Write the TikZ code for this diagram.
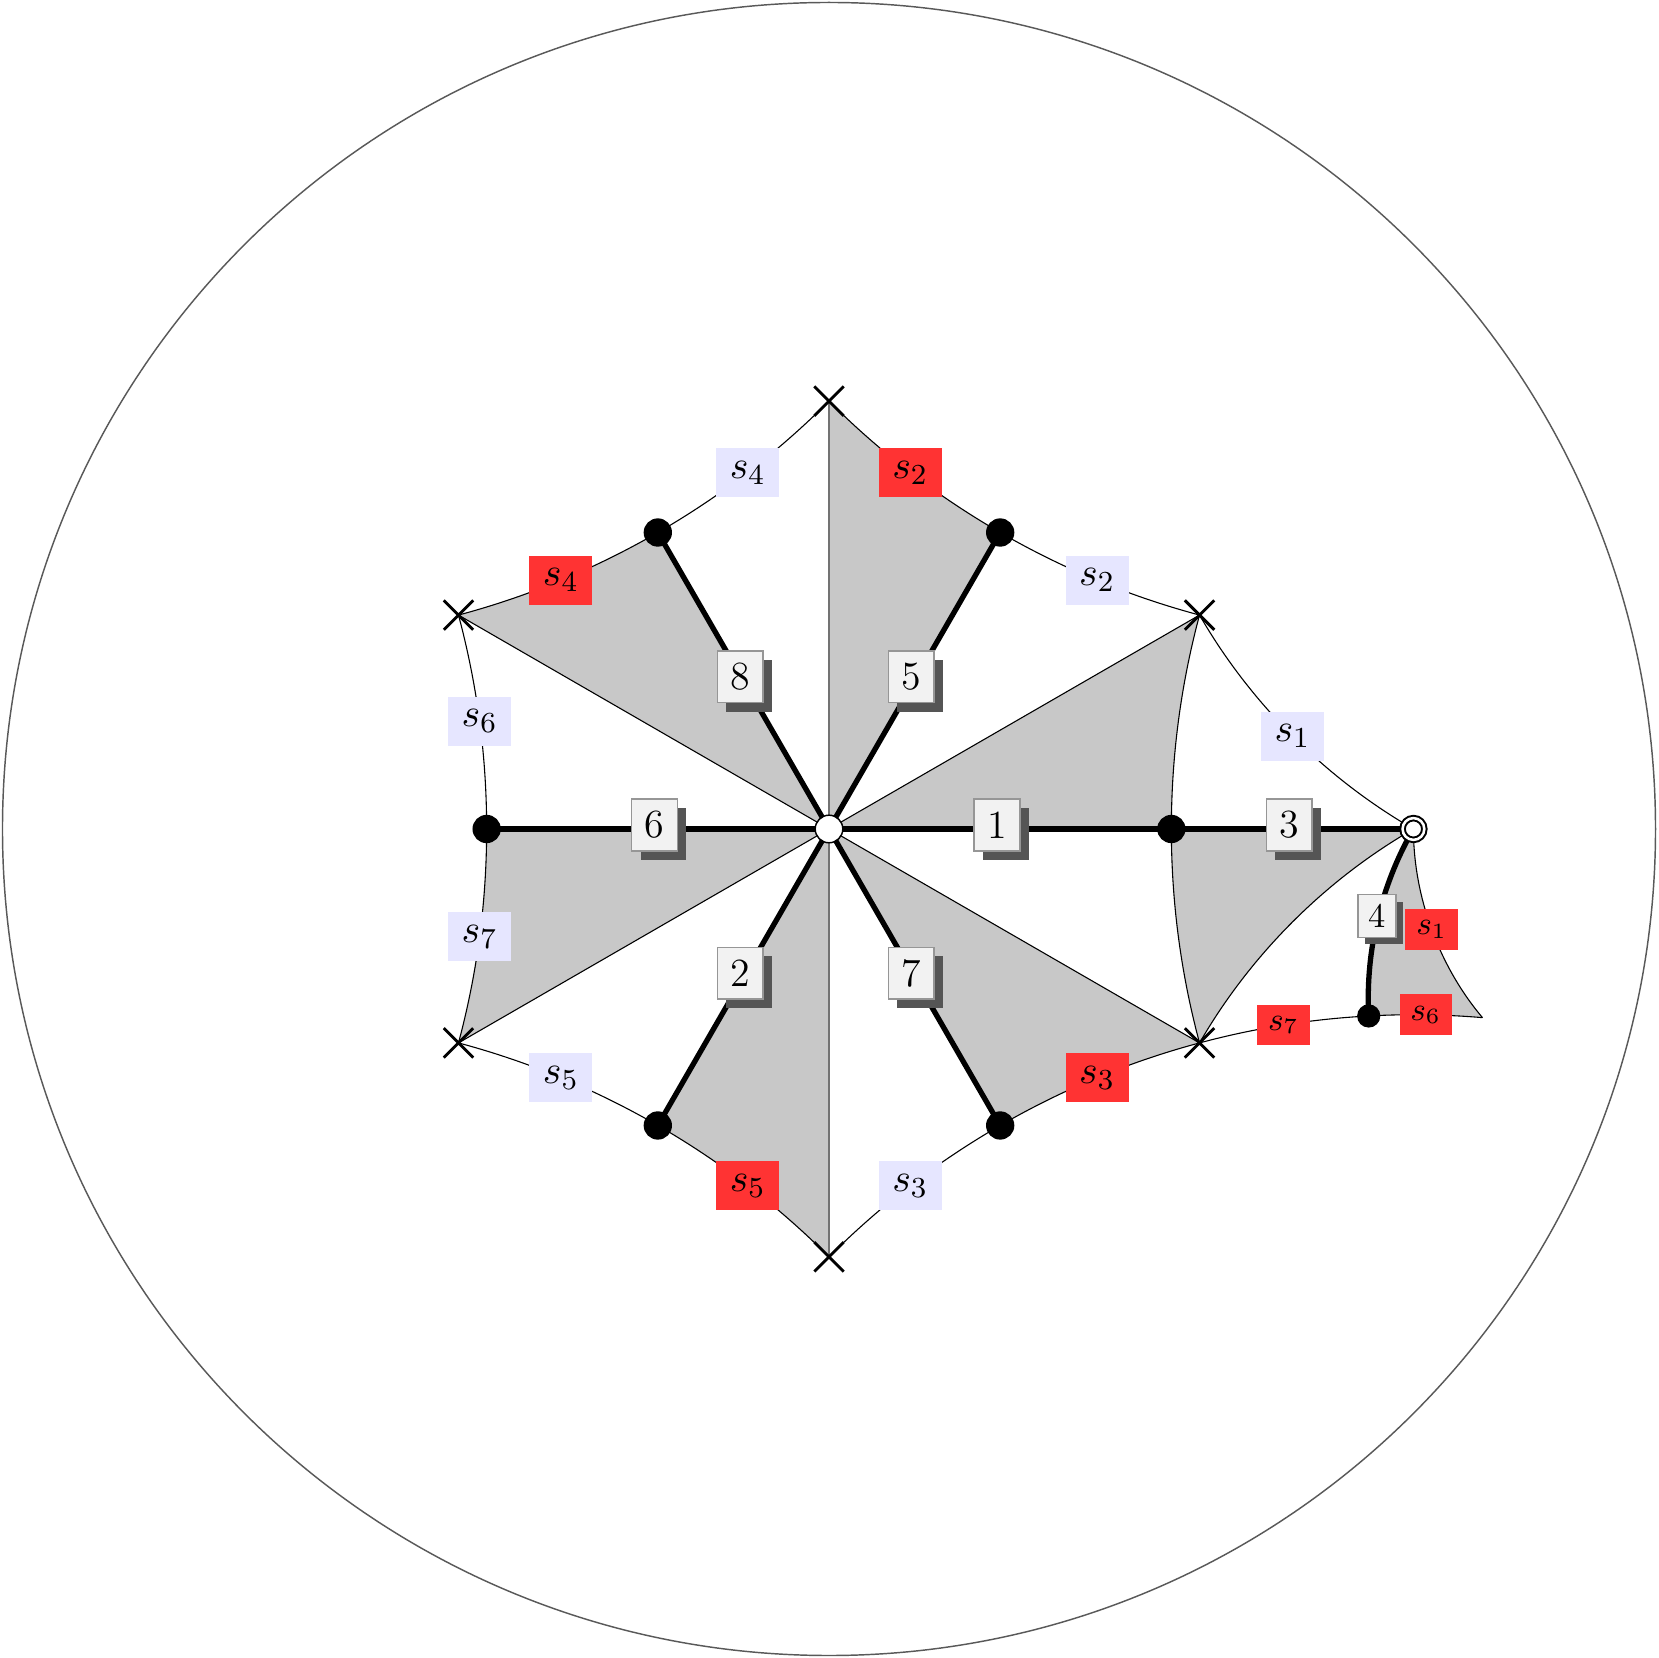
\documentclass[tikz,border=0pt]{standalone}
\usetikzlibrary{shapes.misc,shadows}
\definecolor{shadegray}{RGB}{200,200,200}
\definecolor{lav}{RGB}{230,230,255}
\definecolor{labred}{RGB}{255,51,51}
\definecolor{boxfill}{RGB}{242,242,242}
\definecolor{boxdraw}{RGB}{150,150,150}
\definecolor{shadowc}{RGB}{85,85,85}
\begin{document}
\begin{tikzpicture}[x=8cm,y=8cm,
  thinline/.style={line width=0.3pt,draw=black},
  vline/.style={line width=0.5pt,draw=black!55},
  rim/.style={line width=0.4pt,draw=black!65},
  thickline/.style={line width=1.46pt,draw=black},
  geo/.style={looseness=0.86},
  lbl/.style={midway,inner sep=0pt,font=\fontsize{11}{13}\selectfont},
  lavlab/.style={lbl,fill=lav,minimum width=17.3pt,minimum height=13.5pt},
  redlab/.style={lbl,fill=labred,minimum width=17.3pt,minimum height=13.5pt},
  redsmall/.style={lbl,fill=labred,minimum width=14.4pt,minimum height=11.2pt,font=\fontsize{9}{11}\selectfont},
  numbase/.style={midway,draw=boxdraw,fill=boxfill,line width=0.4pt,inner sep=0pt},
  numbox/.style={numbase,minimum width=12.6pt,minimum height=14.3pt,font=\fontsize{11}{13}\selectfont,xshift=-0.9pt,yshift=1.1pt,drop shadow={shadow xshift=2.47pt,shadow yshift=-2.47pt,fill=shadowc,opacity=1}},
  numsmall/.style={numbase,minimum width=10.4pt,minimum height=11.7pt,font=\fontsize{9.5}{11}\selectfont,xshift=-0.2pt,yshift=0.9pt,drop shadow={shadow xshift=1.9pt,shadow yshift=-1.9pt,fill=shadowc,opacity=1}},
  bdot/.style={circle,fill=black,inner sep=0pt,minimum size=7.8pt},
  sdot/.style={circle,fill=black,inner sep=0pt,minimum size=6.4pt},
  xmark/.style={cross out,draw=black,line width=0.8pt,inner sep=0pt,minimum size=7.3pt},
  wdot/.style={circle,draw=black,fill=white,line width=0.4pt,inner sep=0pt,minimum size=7.6pt},
  ddot/.style={circle,draw=black,line width=0.55pt,double=white,double distance=0.7pt,fill=white,inner sep=0pt,minimum size=6pt}
]
\useasboundingbox (-1.00302,-1.00302) rectangle (1.00302,1.00302);

% points
\coordinate (O) at (0,0);
\coordinate (d0) at (0:0.414214);
\coordinate (d60) at (60:0.414214);
\coordinate (d120) at (120:0.414214);
\coordinate (d180) at (180:0.414214);
\coordinate (d240) at (240:0.414214);
\coordinate (d300) at (300:0.414214);
\coordinate (X30) at (30:0.517638);
\coordinate (X90) at (90:0.517638);
\coordinate (X150) at (150:0.517638);
\coordinate (X210) at (210:0.517638);
\coordinate (X270) at (270:0.517638);
\coordinate (X330) at (330:0.517638);
\coordinate (Op) at (0.707107,0);
\coordinate (sd) at (0.653010,-0.226210);
\coordinate (Xf) at (0.790647,-0.228238);

% outer disk
\draw[rim] (O) circle[radius=8cm];

% shaded tiles
\fill[shadegray] (O) -- (X90) to[bend right=7.5,geo] (d60) -- cycle;
\fill[shadegray] (O) -- (d120) to[bend left=7.5,geo] (X150) -- cycle;
\fill[shadegray] (O) -- (d180) to[bend left=7.5,geo] (X210) -- cycle;
\fill[shadegray] (O) -- (d240) to[bend left=7.5,geo] (X270) -- cycle;
\fill[shadegray] (O) -- (X330) to[bend right=7.5,geo] (d300) -- cycle;
\fill[shadegray] (O) -- (X30) to[bend right=7.5,geo] (d0) -- cycle;
\fill[shadegray] (d0) to[bend right=7.5,geo] (X330) to[bend left=15,geo] (Op) -- cycle;
\fill[shadegray] (Op) to[bend right=16.55,geo] (sd) to[bend left=3.95,geo] (Xf) to[bend left=20.1,geo] (Op) -- cycle;

% straight thin geodesics
\draw[thinline] (O) -- (X30);
\draw[thinline] (O) -- (X150);
\draw[thinline] (O) -- (X210);
\draw[thinline] (O) -- (X330);
\draw[vline] (O) -- (X90);
\draw[vline] (O) -- (X270);

% hexagon arcs
\draw[thinline] (X330) to[bend left=7.5,geo] (d0);
\draw[thinline] (d0) to[bend left=7.5,geo] (X30);
\draw[thinline] (X30) to[bend left=7.5,geo] node[lavlab] (la2) {$s_2$} (d60);
\draw[thinline] (d60) to[bend left=7.5,geo] node[redlab] (lb2) {$s_2$} (X90);
\draw[thinline] (X90) to[bend left=7.5,geo] node[lavlab] (la4) {$s_4$} (d120);
\draw[thinline] (d120) to[bend left=7.5,geo] node[redlab] (lb4) {$s_4$} (X150);
\draw[thinline] (X150) to[bend left=7.5,geo] node[lavlab] (la6) {$s_6$} (d180);
\draw[thinline] (d180) to[bend left=7.5,geo] node[lavlab] (la7) {$s_7$} (X210);
\draw[thinline] (X210) to[bend left=7.5,geo] node[lavlab] (la5) {$s_5$} (d240);
\draw[thinline] (d240) to[bend left=7.5,geo] node[redlab] (lb5) {$s_5$} (X270);
\draw[thinline] (X270) to[bend left=7.5,geo] node[lavlab] (la3) {$s_3$} (d300);
\draw[thinline] (d300) to[bend left=7.5,geo] node[redlab] (lb3) {$s_3$} (X330);

% reflected tile
\draw[thinline] (Op) to[bend left=15,geo] node[lavlab] (la1) {$s_1$} (X30);
\draw[thinline] (Op) to[bend right=15,geo] (X330);
\draw[thinline] (X330) to[bend left=5.95,geo] node[redsmall] (lb7) {$s_7$} (sd);
\draw[thinline] (sd) to[bend left=3.95,geo] node[redsmall] (lb6) {$s_6$} (Xf);
\draw[thinline] (Op) to[bend right=20.1,geo] node[redsmall] (lb1) {$s_1$} (Xf);

% thick edges
\draw[thickline] (O) -- node[numbox] (n1) {1} (d0);
\draw[thickline] (O) -- node[numbox] (n5) {5} (d60);
\draw[thickline] (O) -- node[numbox] (n8) {8} (d120);
\draw[thickline] (O) -- node[numbox] (n6) {6} (d180);
\draw[thickline] (O) -- node[numbox] (n2) {2} (d240);
\draw[thickline] (O) -- node[numbox] (n7) {7} (d300);
\draw[thickline] (d0) -- node[numbox] (n3) {3} (Op);
\draw[thickline] (Op) to[bend right=16.55,geo] node[numsmall] (n4) {4} (sd);

% vertices
\node[bdot] (v0) at (d0) {};
\node[bdot] (v60) at (d60) {};
\node[bdot] (v120) at (d120) {};
\node[bdot] (v180) at (d180) {};
\node[bdot] (v240) at (d240) {};
\node[bdot] (v300) at (d300) {};
\node[sdot] (vsd) at (sd) {};
\node[xmark] (x30) at (X30) {};
\node[xmark] (x90) at (X90) {};
\node[xmark] (x150) at (X150) {};
\node[xmark] (x210) at (X210) {};
\node[xmark] (x270) at (X270) {};
\node[xmark] (x330) at (X330) {};
\node[wdot] (vO) at (O) {};
\node[ddot] (vOp) at (Op) {};
\end{tikzpicture}
\end{document}
